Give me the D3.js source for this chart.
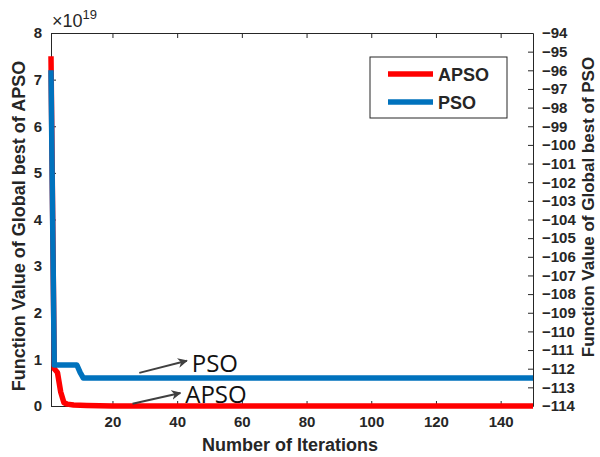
<!DOCTYPE html>
<html lang="en">

<head>
  <meta charset="utf-8">
  <title>APSO vs PSO</title>
  <script src="https://cdn.jsdelivr.net/npm/d3@7/dist/d3.min.js"></script>
  <style>
    body { margin: 0; background: #fff; }
    .tick text { font-family: "Liberation Sans", Arial, sans-serif; font-weight: bold; font-size: 15px; fill: #262626; }
    .tick line, .domain { stroke: #262626; }
    .lbl { font-family: "Liberation Sans", Arial, sans-serif; font-weight: bold; font-size: 18px; fill: #262626; }
  </style>
</head>

<body>
  <script>
    // APSO (left axis, x10^19)
    var apsoIter = [1, 2, 3, 4, 5, 6, 8, 12, 20, 150];
    var apsoVal = [7.5, 0.8, 0.72, 0.3, 0.07, 0.04, 0.02, 0.01, 0, 0];
    // PSO (right axis)
    var psoIter = [1, 2, 9, 10, 11, 150];
    var psoVal = [-96, -111.8, -111.8, -112.2, -112.5, -112.5];

    var xTicks = [20, 40, 60, 80, 100, 120, 140];
    var yLeftTicks = [0, 1, 2, 3, 4, 5, 6, 7, 8];
    var yRightTicks = d3.range(-114, -93, 1);

    // annotation arrows in data units (left axis)
    var notes = [
      { label: "PSO", x0: 28.3, y0: 0.71, x1: 43, y1: 0.97, tx: 44.5, ty: 0.73 },
      { label: "APSO", x0: 26.2, y0: 0.05, x1: 41, y1: 0.28, tx: 42.5, ty: 0.07 }
    ];

    var w = 600, h = 457;
    var margin = { top: 33, left: 51, right: 67, bottom: 51 };
    var width = w - margin.left - margin.right;
    var height = h - margin.top - margin.bottom;

    var x = d3.scaleLinear().domain([1, 150]).range([0, width]);
    var yL = d3.scaleLinear().domain([0, 8]).range([height, 0]);
    var yR = d3.scaleLinear().domain([-114, -94]).range([height, 0]);

    var svg = d3.select("body").append("svg")
      .attr("width", w)
      .attr("height", h);

    svg.append("defs").append("marker")
      .attr("id", "head")
      .attr("viewBox", "0 0 10 10")
      .attr("refX", 9).attr("refY", 5)
      .attr("markerWidth", 5).attr("markerHeight", 5)
      .attr("markerUnits", "strokeWidth")
      .attr("orient", "auto")
      .append("path")
      .attr("d", "M0,0 L10,5 L0,10 L3,5 Z")
      .attr("fill", "#404040");

    var g = svg.append("g")
      .attr("transform", "translate(" + margin.left + "," + margin.top + ")");

    // axes
    g.append("g")
      .attr("transform", "translate(0," + height + ")")
      .call(d3.axisBottom(x).tickValues(xTicks).tickSizeInner(-5).tickSizeOuter(0).tickPadding(10));
    g.append("g")
      .call(d3.axisTop(x).tickValues(xTicks).tickSizeInner(-5).tickSizeOuter(0).tickFormat(""));
    g.append("g")
      .call(d3.axisLeft(yL).tickValues(yLeftTicks).tickSizeInner(-5).tickSizeOuter(0).tickPadding(9));
    g.append("g")
      .attr("transform", "translate(" + width + ",0)")
      .call(d3.axisRight(yR).tickValues(yRightTicks).tickSizeInner(-5).tickSizeOuter(0).tickPadding(9));
    g.selectAll(".domain").attr("stroke-width", 1);

    // lines
    var lineA = d3.line().x(function (d, i) { return x(apsoIter[i]); }).y(function (d) { return yL(d); });
    var lineP = d3.line().x(function (d, i) { return x(psoIter[i]); }).y(function (d) { return yR(d); });

    g.append("path").datum(apsoVal)
      .attr("d", lineA).attr("fill", "none")
      .attr("stroke", "#ff0000").attr("stroke-width", 5.5).attr("stroke-linejoin", "round");
    g.append("path").datum(psoVal)
      .attr("d", lineP).attr("fill", "none")
      .attr("stroke", "#0072bd").attr("stroke-width", 5.5).attr("stroke-linejoin", "round");

    // annotations
    notes.forEach(function (n) {
      g.append("line")
        .attr("x1", x(n.x0)).attr("y1", yL(n.y0))
        .attr("x2", x(n.x1)).attr("y2", yL(n.y1))
        .attr("stroke", "#404040").attr("stroke-width", 2)
        .attr("marker-end", "url(#head)");
      g.append("text")
        .attr("x", x(n.tx)).attr("y", yL(n.ty))
        .attr("font-family", "'Open Sans', 'Noto Sans', sans-serif")
        .attr("font-size", 24)
        .attr("fill", "#111")
        .text(n.label);
    });

    // legend
    var leg = g.append("g").attr("transform", "translate(" + (370 - margin.left) + "," + (57 - margin.top) + ")");
    leg.append("rect").attr("width", 137).attr("height", 61)
      .attr("fill", "#fff").attr("stroke", "#262626").attr("stroke-width", 1);
    [["APSO", "#ff0000"], ["PSO", "#0072bd"]].forEach(function (d, i) {
      var yy = 17 + i * 28;
      leg.append("line").attr("x1", 18).attr("x2", 63).attr("y1", yy).attr("y2", yy)
        .attr("stroke", d[1]).attr("stroke-width", 5.5);
      leg.append("text").attr("class", "lbl").attr("x", 68).attr("y", yy + 6.5).text(d[0]);
    });

    // axis labels
    svg.append("text").attr("class", "lbl")
      .attr("text-anchor", "middle")
      .attr("x", 290).attr("y", 451)
      .text("Number of Iterations");
    svg.append("text").attr("class", "lbl")
      .attr("text-anchor", "middle")
      .attr("transform", "translate(25,226) rotate(-90)")
      .text("Function Value of Global best of APSO");
    svg.append("text").attr("class", "lbl")
      .attr("text-anchor", "middle")
      .style("font-size", "17px")
      .attr("transform", "translate(594,207) rotate(-90)")
      .text("Function Value of Global best of PSO");

    // exponent
    var ex = svg.append("text")
      .attr("x", 52).attr("y", 27)
      .attr("font-family", "'Liberation Sans', Arial, sans-serif")
      .attr("font-size", 18).attr("fill", "#262626");
    ex.append("tspan").text("\u00d710");
    ex.append("tspan").attr("font-size", 13).attr("dy", -8).text("19");
  </script>
</body>

</html>
